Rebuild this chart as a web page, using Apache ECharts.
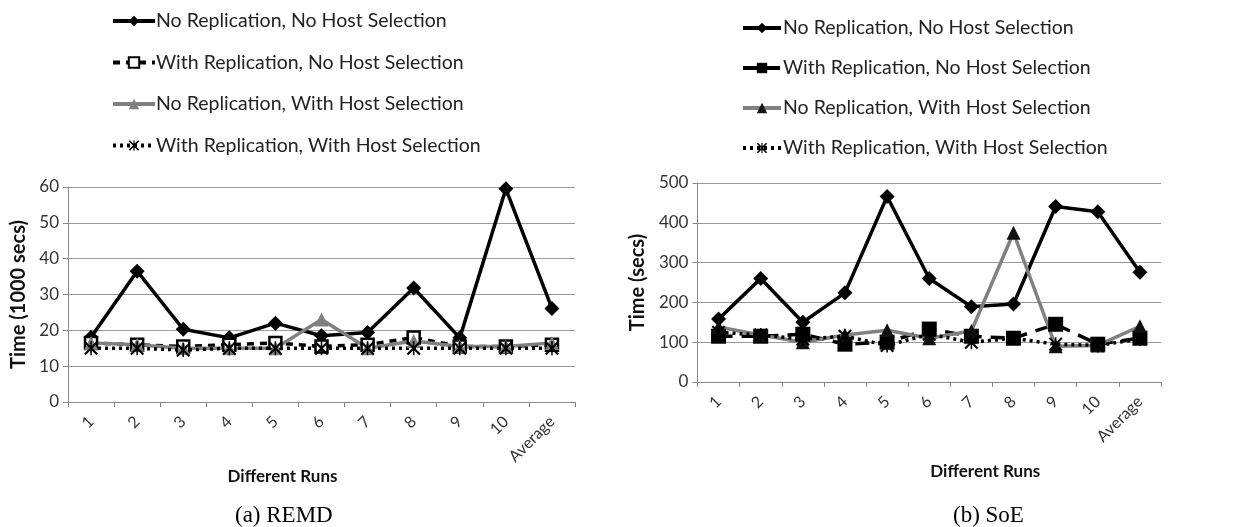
<!DOCTYPE html>
<html><head><meta charset="utf-8">
<script src="https://cdn.jsdelivr.net/npm/echarts@6/dist/echarts.min.js"></script>
<style>html,body{margin:0;padding:0;background:#fff;}#a{position:absolute;left:0;top:0;width:620px;height:527px;}#b{position:absolute;left:620px;top:0;width:626px;height:527px;}</style>
</head><body><div id="a"></div><div id="b"></div>
<script>
const categories = ['1','2','3','4','5','6','7','8','9','10','Average'];
const seriesNames = ['No Replication, No Host Selection','With Replication, No Host Selection','No Replication, With Host Selection','With Replication, With Host Selection'];
// REMD (1000 secs)
const remdNoRepNoHost = [18.1, 36.5, 20.3, 17.9, 22.0, 18.5, 19.4, 31.8, 17.9, 59.5, 26.1];
const remdRepNoHost   = [16.5, 16.0, 15.5, 16.0, 16.5, 15.5, 16.0, 18.0, 15.5, 15.5, 16.0];
const remdNoRepHost   = [16.5, 16.0, 15.0, 15.0, 15.0, 23.0, 15.0, 17.0, 15.5, 15.5, 16.5];
const remdRepHost     = [15.0, 15.0, 14.5, 15.0, 15.0, 15.0, 15.0, 15.0, 15.0, 15.0, 15.0];
// SoE (secs)
const soeNoRepNoHost = [158, 260, 150, 224, 466, 260, 189, 196, 441, 428, 276];
const soeRepNoHost   = [115, 115, 120, 95, 100, 133, 115, 110, 145, 95, 110];
const soeNoRepHost   = [138, 118, 100, 118, 130, 110, 128, 375, 90, 92, 140];
const soeRepHost     = [125, 118, 108, 115, 92, 120, 100, 110, 95, 92, 108];
const remdTicks = {min:0, max:60, interval:10};
const soeTicks = {min:0, max:500, interval:100};

const FONT = 'Lato';
const asterisk = 'path://M9,0L11,0L11,20L9,20Z M1,2L3,0L19,18L17,20Z M17,0L19,2L3,20L1,18Z';

function makeOption(cfg){
  const s = [
    {name:seriesNames[0], data:cfg.d[0], symbol:'diamond', symbolSize:15,
     lineStyle:{color:'#000',width:3.5}, itemStyle:{color:'#000'}},
    {name:seriesNames[1], data:cfg.d[1], symbol:'rect', symbolSize:cfg.sqSize,
     lineStyle:{color:'#000',width:3.5,type:cfg.dash}, itemStyle:cfg.sqStyle},
    {name:seriesNames[2], data:cfg.d[2], symbol:'triangle', symbolSize:14,
     lineStyle:{color:'#808080',width:3.5}, itemStyle:{color:cfg.triColor}},
    {name:seriesNames[3], data:cfg.d[3], symbol:asterisk, symbolSize:14,
     lineStyle:{color:'#000',width:3.5,type:[3,4]}, itemStyle:{color:'#000'}}
  ].map(x=>Object.assign({type:'line', showSymbol:true, animation:false, z: 2}, x));
  return {
    animation:false,
    textStyle:{fontFamily:FONT},
    legend:{orient:'vertical', left:cfg.legLeft, top:cfg.legTop, itemWidth:cfg.legW, itemHeight:13, itemGap:cfg.legGap,
      data:seriesNames, selectedMode:false, lineStyle:{width:4},
      textStyle:{fontFamily:FONT, fontSize:19.5, color:'#222', padding:[0,0,0,cfg.legPad]}},
    title:{text:cfg.caption, left:cfg.capLeft, top:499, textStyle:{fontFamily:'Liberation Serif', fontWeight:'normal', fontSize:23, color:'#000'}},
    grid:{left:cfg.gl, top:cfg.gt, width:cfg.gw, height:cfg.gh},
    xAxis:{type:'category', data:categories, boundaryGap:true,
      axisLine:{lineStyle:{color:'#888',width:1}}, axisTick:{show:true,length:5,lineStyle:{color:'#888'}},
      axisLabel:{rotate:45, fontSize:16, color:'#333', fontFamily:FONT, margin:17},
      name:'Different Runs', nameLocation:'middle', nameGap:cfg.xGap,
      nameTextStyle:{fontFamily:FONT, fontWeight:'bold', fontSize:17, color:'#111', padding:cfg.xPad}},
    yAxis:{type:'value', min:cfg.ticks.min, max:cfg.ticks.max, interval:cfg.ticks.interval,
      axisLine:{show:true, lineStyle:{color:'#888'}}, axisTick:{show:true,length:5,lineStyle:{color:'#888'}},
      splitLine:{lineStyle:{color:'#999',width:1}},
      axisLabel:{fontSize:17, color:'#333', fontFamily:FONT, margin:9},
      name:cfg.yName, nameLocation:'middle', nameGap:cfg.yGap,
      nameTextStyle:{fontFamily:FONT, fontWeight:'bold', fontSize:20, color:'#111'}},
    series:s
  };
}

const ca = echarts.init(document.getElementById('a'), null, {renderer:'canvas'});
ca.setOption(makeOption({
  d:[remdNoRepNoHost, remdRepNoHost, remdNoRepHost, remdRepHost],
  sqSize:12, sqStyle:{color:'#fff', borderColor:'#000', borderWidth:2.5}, dash:[7,6], triColor:'#808080',
  legLeft:106, legTop:6, legGap:21.5, legW:42, legPad:-4, caption:'(a) REMD', capLeft:230,
  gl:68, gt:187, gw:507, gh:215, xGap:65, xPad:[0,78,0,0], ticks:remdTicks, yName:'Time (1000 secs)', yGap:30
}));
const cb = echarts.init(document.getElementById('b'), null, {renderer:'canvas'});
cb.setOption(makeOption({
  d:[soeNoRepNoHost, soeRepNoHost, soeNoRepHost, soeRepHost],
  sqSize:15, sqStyle:{color:'#000'}, dash:[14,9], triColor:'#111',
  legLeft:116, legTop:13, legGap:20, legW:38, legPad:-3, caption:'(b) SoE', capLeft:328,
  gl:73, gt:183, gw:468, gh:199, xGap:81, xPad:[0,0,0,112], ticks:soeTicks, yName:'Time (secs)', yGap:24
}));
</script></body></html>
